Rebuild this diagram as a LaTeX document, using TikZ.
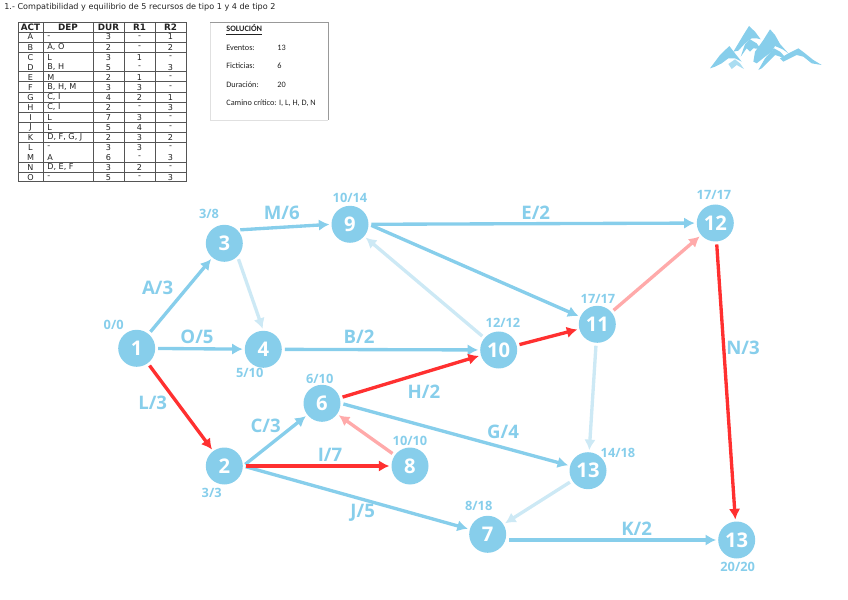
\documentclass[tikz,border=0pt]{standalone}
\usepackage{fontspec}
\setmainfont{Open Sans}
\newfontfamily\tablefont{DejaVu Sans}
\newfontfamily\solfont{Carlito}
\usetikzlibrary{arrows.meta,positioning,calc}
\definecolor{Sky}{HTML}{87CEEB}
\definecolor{SoftSky}{HTML}{CDE9F5}
\definecolor{Crit}{HTML}{FF3030}
\definecolor{SoftCrit}{HTML}{FFAAAA}
\definecolor{Ink}{HTML}{222222}
\definecolor{Grid}{HTML}{555555}

\begin{document}
\begin{tikzpicture}[
  x=0.2mm,y=-0.2mm,
  event/.style={circle,fill=Sky,text=white,minimum size=0.74cm,inner sep=0pt,font=\fontsize{11.5}{12}\selectfont\bfseries},
  arrow/.style={-{Latex[length=6pt,width=6.5pt]},line width=1.9pt,draw=Sky,shorten <=1.5pt,shorten >=1pt},
  crit/.style={arrow,draw=Crit},
  softarrow/.style={arrow,draw=SoftSky},
  softcrit/.style={arrow,draw=SoftCrit},
  act/.style={text=Sky,font=\fontsize{10.6}{12}\selectfont\bfseries,inner sep=0pt},
  times/.style={text=Sky,font=\fontsize{7.3}{9}\selectfont\bfseries,inner sep=0pt},
  cell/.style={inner sep=0pt,text=Ink,font=\tablefont\fontsize{4.6}{5}\selectfont},
  head/.style={cell,font=\tablefont\fontsize{5}{5}\selectfont\bfseries},
  sol/.style={inner sep=0pt,anchor=west,text=Ink,font=\solfont\fontsize{4.7}{6}\selectfont},
  rule/.style={draw=Grid,line width=0.55pt}
]
\useasboundingbox (0,0) rectangle (848,600);

% title
\node[anchor=west,inner sep=0pt,text=Ink,font=\tablefont\fontsize{4.6}{6}\selectfont] (title) at (4,7) {1.- Compatibilidad y equilibrio de 5 recursos de tipo 1 y 4 de tipo 2};

% table
\node[head] (hact) at (30.5,27) {ACT};
\node[head] (hdep) at (68,27) {DEP};
\node[head] (hdur) at (108.5,27) {DUR};
\node[head] (hra) at (139.5,27) {R1};
\node[head] (hrb) at (170.5,27) {R2};
\foreach \name/\dep/\dur/\ra/\rb [count=\i] in {
  A/-/3/-/1,B/{A, O}/2/-/2,C/L/3/1/-,D/{B, H}/5/-/3,E/M/2/1/-,
  F/{B, H, M}/3/3/-,G/{C, I}/4/2/1,H/{C, I}/2/-/3,I/L/7/3/-,J/L/5/4/-,
  K/{D, F, G, J}/2/3/2,L/-/3/3/-,M/A/6/-/3,N/{D, E, F}/3/2/-,O/-/5/-/3}{
  \pgfmathsetmacro{\rowy}{22+\i*10.03+5}
  \node[cell] (act\i) at (30.5,\rowy) {\name};
  \node[cell,anchor=west] (dep\i) at (47,\rowy) {\dep};
  \node[cell] (dur\i) at (108.5,\rowy) {\dur};
  \node[cell] (ra\i) at (139.5,\rowy) {\ra};
  \node[cell] (rb\i) at (170.5,\rowy) {\rb};
}
\draw[rule] (18,22) rectangle (186,181);
\foreach \colx in {43,93,124,155} \draw[rule] (\colx,22) -- (\colx,181);
\foreach \liney in {32,42,52,71,81,92,102,112,122,132,142,162,172} \draw[rule] (18,\liney) -- (186,\liney);

% solution box
\draw[draw=black!12,line width=0.5pt] (210,22) -- (210,120) -- (328,120);
\draw[draw=black!40,line width=0.5pt] (210,22) -- (328,22) -- (328,120);
\node[sol,font=\solfont\fontsize{4.7}{6}\selectfont\bfseries] (soltitle) at (226,30) {\underline{SOLUCIÓN}};
\node[sol] (events) at (226,48) {Eventos:};
\node[sol] (eventsv) at (277,48) {13};
\node[sol] (dummies) at (226,66) {Ficticias:};
\node[sol] (dummiesv) at (277,66) {6};
\node[sol] (length) at (226,85) {Duración:};
\node[sol] (lengthv) at (277,85) {20};
\node[sol] (path) at (226,103) {Camino crítico: I, L, H, D, N};

% mountains
\begin{scope}[shift={(700,20)},x=0.0667mm,y=-0.0667mm]
\fill[Sky] (100,95) -- (130,45) -- (147,18) -- (165,35) -- (182,58) -- (170,55) -- (155,55) -- (135,70) -- (115,92) -- cycle;
\fill[Sky] (135,72) -- (150,58) -- (170,70) -- (182,87) -- (160,85) -- (150,95) -- (140,85) -- (122,110) -- cycle;
\fill[Sky] (165,95) -- (190,60) -- (210,28) -- (225,45) -- (240,72) -- (265,100) -- (248,88) -- (225,78) -- (215,95) -- (195,110) -- (170,130) -- (160,125) -- cycle;
\fill[Sky] (195,115) -- (222,85) -- (240,95) -- (262,118) -- (240,110) -- (225,105) -- (205,125) -- (185,145) -- (175,150) -- cycle;
\fill[Sky] (30,145) -- (60,105) -- (88,78) -- (105,100) -- (125,125) -- (105,115) -- (85,115) -- (65,130) -- (45,140) -- cycle;
\fill[Sky!70] (85,132) -- (105,118) -- (120,130) -- (132,147) -- (110,135) -- (95,147) -- cycle;
\fill[Sky] (240,115) -- (265,100) -- (295,85) -- (315,100) -- (340,120) -- (365,135) -- (335,130) -- (310,110) -- (290,105) -- (270,115) -- (250,125) -- cycle;
\end{scope}

% events
\node[event] (n1) at (136.7,348.3) {1};
\node[event] (n3) at (224.3,243.3) {3};
\node[event] (n4) at (263.3,349.3) {4};
\node[event] (n9) at (350,224.3) {9};
\node[event] (n12) at (715.3,223) {12};
\node[event] (n11) at (597.3,324.3) {11};
\node[event] (n10) at (498.7,350) {10};
\node[event] (n6) at (322,403.3) {6};
\node[event] (n2) at (224.3,466) {2};
\node[event] (n8) at (410,466) {8};
\node[event] (n13a) at (588,470.7) {13};
\node[event] (n7) at (487.7,534.3) {7};
\node[event] (n13b) at (736.7,540) {13};

% times
\node[times] (t1) at (113.7,325.3) {0/0};
\node[times] (t3) at (209,214.3) {3/8};
\node[times] (t4) at (249.7,373.3) {5/10};
\node[times] (t9) at (350,198) {10/14};
\node[times] (t12) at (714,195.3) {17/17};
\node[times] (t11) at (598,299.3) {17/17};
\node[times] (t10) at (503,322.7) {12/12};
\node[times] (t6) at (319.7,378.7) {6/10};
\node[times] (t2) at (211.7,493.3) {3/3};
\node[times] (t8) at (410,441) {10/10};
\node[times] (t13a) at (618,452.7) {14/18};
\node[times] (t7) at (478.7,506) {8/18};
\node[times] (t13b) at (737.7,566.7) {20/20};

% activities
\draw[arrow] (n1) -- (n3);
\draw[arrow] (n1) -- (n4);
\draw[arrow] (n3.north east) -- (n9.west);
\draw[softarrow] (n3.south east) -- (n4.north);
\draw[arrow] (n4) -- (n10);
\draw[arrow] (n2.east) -- (n6);
\draw[arrow] (n2.east) -- (n7);
\draw[softcrit] (n8) -- (n6);
\draw[arrow] (n6.east) -- (n13a);
\draw[softarrow] (n10) -- (n9);
\draw[arrow] (n9.east) -- (n12);
\draw[arrow] (n9.east) -- (n11);
\draw[softcrit] (n11) -- (n12);
\draw[softarrow] (n11) -- (n13a);
\draw[softarrow] (n13a) -- (n7);
\draw[arrow] (n7.east |- n13b.west) -- (n13b.west);
\draw[crit] (n1) -- (n2);
\draw[crit] (n2.east) -- (n8);
\draw[crit] (n6) -- (n10);
\draw[crit] (n10) -- (n11);
\draw[crit] (n12) -- (n13b);

\node[act] (la) at (157.7,288) {A/3};
\node[act] (lo) at (197,336.7) {O/5};
\node[act] (ll) at (152.7,402.7) {L/3};
\node[act] (lm) at (281.7,212.7) {M/6};
\node[act] (lb) at (359,337) {B/2};
\node[act] (lc) at (265.7,426) {C/3};
\node[act] (li) at (330,455) {I/7};
\node[act] (lj) at (362.7,513) {J/5};
\node[act] (lh) at (424,391.7) {H/2};
\node[act] (lg) at (503,432) {G/4};
\node[act] (le) at (535.7,213) {E/2};
\node[act] (ln) at (743,348) {N/3};
\node[act] (lk) at (636.7,529) {K/2};
\end{tikzpicture}
\end{document}
